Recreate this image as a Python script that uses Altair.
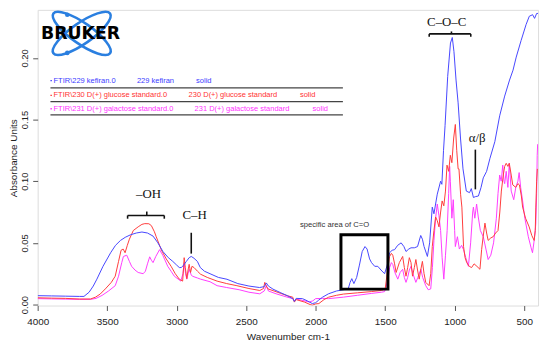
import altair as alt
import pandas as pd

# ---------------- spectra (wavenumber cm-1, absorbance) ----------------
kefiran_wn = [4000, 3900, 3800, 3700, 3667, 3630, 3600, 3574, 3530, 3475, 3440, 3404, 3370, 3333,
              3290, 3250, 3210, 3170, 3135, 3099, 3060, 3028, 3000, 2981, 2966, 2950, 2930, 2910,
              2895, 2875, 2851, 2830, 2800, 2760, 2700, 2638, 2560, 2480, 2404, 2370, 2355, 2340,
              2307, 2250, 2200, 2165, 2153, 2140, 2095, 2060, 2024, 2000, 1979, 1950, 1908, 1850,
              1800, 1766, 1752, 1740, 1725, 1705, 1685, 1665, 1645, 1630, 1612, 1598, 1575, 1553,
              1530, 1504, 1485, 1468, 1450, 1432, 1410, 1385, 1365, 1350, 1330, 1314, 1290, 1267,
              1244, 1232, 1220, 1196, 1180, 1161, 1149, 1125, 1101, 1092, 1080, 1069, 1050, 1030,
              1017, 1005, 990, 975, 958, 940, 916, 893, 880, 865, 850, 829, 810, 794, 770, 746,
              711, 676, 640, 605, 580, 557, 522, 486, 463, 439, 425, 410, 400]
kefiran_abs = [0.0072, 0.0070, 0.0068, 0.0066, 0.0066, 0.0100, 0.0150, 0.0206, 0.0310, 0.0420,
               0.0480, 0.0520, 0.0545, 0.0565, 0.0580, 0.0588, 0.0580, 0.0555, 0.0500, 0.0430,
               0.0380, 0.0350, 0.0320, 0.0300, 0.0300, 0.0320, 0.0350, 0.0380, 0.0390, 0.0375,
               0.0350, 0.0300, 0.0270, 0.0250, 0.0220, 0.0205, 0.0170, 0.0150, 0.0138, 0.0145,
               0.0175, 0.0150, 0.0125, 0.0095, 0.0070, 0.0048, 0.0025, 0.0050, 0.0048, 0.0030,
               0.0008, 0.0015, 0.0035, 0.0060, 0.0087, 0.0110, 0.0120, 0.0127, 0.0180, 0.0210,
               0.0170, 0.0220, 0.0320, 0.0430, 0.0470, 0.0450, 0.0370, 0.0340, 0.0310, 0.0310,
               0.0280, 0.0250, 0.0320, 0.0420, 0.0440, 0.0445, 0.0480, 0.0500, 0.0470, 0.0430,
               0.0450, 0.0460, 0.0460, 0.0470, 0.0560, 0.0530, 0.0470, 0.0390, 0.0500, 0.0790,
               0.0736, 0.0895, 0.1000, 0.0975, 0.1250, 0.1450, 0.1850, 0.2120, 0.2165, 0.2050,
               0.1820, 0.1635, 0.1350, 0.1100, 0.0920, 0.0907, 0.0940, 0.0868, 0.0875, 0.0880,
               0.0950, 0.1027, 0.1080, 0.1185, 0.1320, 0.1530, 0.1690, 0.1820, 0.1900, 0.2006,
               0.2140, 0.2270, 0.2337, 0.2350, 0.2320, 0.2360, 0.2360]

glucose_wn = [4000, 3900, 3800, 3700, 3620, 3584, 3550, 3513, 3470, 3442, 3418, 3400, 3385, 3371,
              3355, 3340, 3312, 3277, 3250, 3229, 3200, 3182, 3160, 3147, 3111, 3075, 3040, 3010,
              2981, 2957, 2950, 2946, 2938, 2927, 2918, 2910, 2900, 2890, 2875, 2850, 2828, 2780,
              2709, 2640, 2567, 2480, 2402, 2375, 2366, 2355, 2343, 2300, 2250, 2200, 2165, 2153,
              2140, 2080, 2040, 2024, 2000, 1977, 1940, 1906, 1850, 1800, 1700, 1600, 1527, 1500,
              1480, 1468, 1455, 1445, 1432, 1421, 1398, 1374, 1362, 1350, 1338, 1326, 1314, 1303,
              1290, 1279, 1267, 1255, 1244, 1232, 1220, 1208, 1184, 1172, 1161, 1149, 1137, 1125,
              1113, 1101, 1090, 1078, 1066, 1055, 1043, 1031, 1020, 1007, 995, 985, 975, 969, 957,
              948, 936, 925, 913, 895, 878, 860, 840, 818, 806, 795, 782, 770, 759, 740, 723, 705,
              688, 675, 664, 650, 640, 629, 617, 607, 593, 582, 560, 545, 534, 520, 511, 490, 464,
              445, 428, 420, 416, 410, 405]
glucose_abs = [0.0055, 0.0052, 0.0050, 0.0045, 0.0045, 0.0060, 0.0085, 0.0127, 0.0180, 0.0230,
               0.0350, 0.0440, 0.0450, 0.0420, 0.0480, 0.0530, 0.0600, 0.0630, 0.0650, 0.0656,
               0.0655, 0.0640, 0.0590, 0.0550, 0.0445, 0.0370, 0.0310, 0.0250, 0.0206, 0.0190,
               0.0300, 0.0380, 0.0300, 0.0210, 0.0280, 0.0326, 0.0260, 0.0310, 0.0300, 0.0270,
               0.0246, 0.0220, 0.0190, 0.0170, 0.0153, 0.0130, 0.0114, 0.0130, 0.0180, 0.0150,
               0.0127, 0.0110, 0.0090, 0.0070, 0.0060, 0.0020, 0.0040, 0.0020, 0.0000, -0.0005,
               0.0005, 0.0008, 0.0040, 0.0060, 0.0075, 0.0085, 0.0095, 0.0105, 0.0114, 0.0125,
               0.0300, 0.0390, 0.0415, 0.0400, 0.0330, 0.0260, 0.0340, 0.0390, 0.0300, 0.0230,
               0.0300, 0.0380, 0.0340, 0.0230, 0.0300, 0.0365, 0.0280, 0.0206, 0.0280, 0.0350,
               0.0250, 0.0180, 0.0153, 0.0250, 0.0470, 0.0600, 0.0710, 0.0680, 0.0630, 0.0750,
               0.0840, 0.0800, 0.0920, 0.1130, 0.1080, 0.1210, 0.1150, 0.1350, 0.1460, 0.1250,
               0.1100, 0.1100, 0.0890, 0.0790, 0.0470, 0.0380, 0.0340, 0.0310, 0.0300, 0.0330,
               0.0310, 0.0286, 0.0445, 0.0550, 0.0660, 0.0580, 0.0520, 0.0540, 0.0550, 0.0580,
               0.0600, 0.0750, 0.0920, 0.1050, 0.1120, 0.1145, 0.1120, 0.1145, 0.1050, 0.0970,
               0.0950, 0.0980, 0.0970, 0.0880, 0.0790, 0.0700, 0.0630, 0.0560, 0.0520, 0.0600,
               0.0790, 0.1000, 0.1100]

galactose_wn = [4000, 3900, 3800, 3700, 3620, 3580, 3537, 3490, 3442, 3418, 3395, 3383, 3359, 3340,
                3324, 3300, 3277, 3241, 3225, 3210, 3194, 3182, 3170, 3150, 3123, 3100, 3064, 3040,
                3017, 2970, 2955, 2946, 2936, 2927, 2918, 2910, 2895, 2887, 2850, 2828, 2760, 2709,
                2640, 2550, 2480, 2402, 2370, 2355, 2340, 2284, 2220, 2165, 2153, 2140, 2100, 2047,
                2020, 2000, 1950, 1906, 1800, 1700, 1600, 1527, 1504, 1480, 1468, 1455, 1445, 1430,
                1409, 1392, 1374, 1362, 1350, 1338, 1326, 1314, 1300, 1279, 1265, 1243, 1230, 1208,
                1190, 1172, 1160, 1149, 1137, 1125, 1113, 1101, 1090, 1078, 1066, 1054, 1043, 1036,
                1031, 1020, 1010, 1000, 995, 980, 966, 950, 936, 920, 901, 885, 870, 865, 855, 842,
                830, 815, 794, 775, 759, 740, 720, 700, 688, 676, 665, 654, 645, 640, 629, 617, 607,
                593, 575, 560, 545, 536, 525, 511, 495, 470, 450, 440, 430, 420, 416, 410, 406, 403]
galactose_abs = [0.0048, 0.0046, 0.0044, 0.0042, 0.0042, 0.0050, 0.0074, 0.0110, 0.0153, 0.0230,
                 0.0340, 0.0390, 0.0400, 0.0350, 0.0310, 0.0280, 0.0260, 0.0250, 0.0270, 0.0330,
                 0.0387, 0.0360, 0.0340, 0.0390, 0.0445, 0.0400, 0.0310, 0.0270, 0.0230, 0.0190,
                 0.0250, 0.0340, 0.0250, 0.0206, 0.0250, 0.0286, 0.0240, 0.0230, 0.0215, 0.0206,
                 0.0185, 0.0153, 0.0138, 0.0120, 0.0100, 0.0087, 0.0110, 0.0153, 0.0110, 0.0087,
                 0.0065, 0.0048, 0.0030, 0.0045, 0.0035, 0.0021, 0.0030, 0.0048, 0.0050, 0.0048,
                 0.0060, 0.0075, 0.0090, 0.0100, 0.0105, 0.0200, 0.0300, 0.0340, 0.0325, 0.0260,
                 0.0206, 0.0260, 0.0286, 0.0220, 0.0180, 0.0220, 0.0280, 0.0310, 0.0250, 0.0180,
                 0.0220, 0.0286, 0.0220, 0.0153, 0.0120, 0.0127, 0.0300, 0.0520, 0.0700, 0.0815,
                 0.0720, 0.0600, 0.0380, 0.0206, 0.0400, 0.0600, 0.0900, 0.1120, 0.1000, 0.0700,
                 0.0850, 0.0600, 0.0470, 0.0550, 0.0450, 0.0480, 0.0445, 0.0380, 0.0310, 0.0500,
                 0.0750, 0.0790, 0.0700, 0.0815, 0.0710, 0.0600, 0.0550, 0.0450, 0.0365, 0.0400,
                 0.0500, 0.0700, 0.0900, 0.1050, 0.1000, 0.1130, 0.1000, 0.0980, 0.1080, 0.0950,
                 0.1145, 0.0920, 0.0850, 0.0950, 0.1000, 0.1070, 0.0950, 0.0840, 0.0700, 0.0550,
                 0.0460, 0.0420, 0.0500, 0.0600, 0.0660, 0.0900, 0.1210, 0.1300]

series_names = ["kefiran", "glucose", "galactose"]
series_colors = ["#4646FF", "#FF3C3C", "#FF3CFF"]

# ---------------- legend block (top-left) ----------------
legend_col1 = ["FTIR\\229 kefiran.0", "FTIR\\230 D(+) glucose standard.0",
               "FTIR\\231 D(+) galactose standard.0"]
legend_col2 = ["229 kefiran", "230 D(+) glucose standard", "231 D(+) galactose standard"]
legend_col3 = ["solid", "solid", "solid"]
legend_row_abs = [0.1815, 0.1696, 0.1587]
legend_col1_wn = [3886, 3886, 3886]
legend_col2_wn = [3286, 2914, 2871]
legend_col3_wn = [2860, 2113, 2022]
legend_text_colors = ["#3C3CFF", "#FF3333", "#FF33FF"]
legend_sep_abs = [0.1756, 0.1645, 0.1537]
legend_sep_wn = [3908, 1804]
legend_dot_wn = 3903

# ---------------- annotations ----------------
ann_text = ["–OH", "C–H", "C–O–C", "α/β"]
ann_wn = [3203, 2871, 1057, 838]
ann_abs = [0.0897, 0.0728, 0.2294, 0.1350]

seg_wn1 = [3353, 3353, 3089, 3215, 2895, 1183, 1183, 884, 1023, 851]
seg_wn2 = [3089, 3353, 3089, 3215, 2895, 884, 1183, 884, 1023, 851]
seg_abs1 = [0.0722, 0.0722, 0.0722, 0.0722, 0.0582, 0.2194, 0.2194, 0.2194, 0.2194, 0.1256]
seg_abs2 = [0.0722, 0.0696, 0.0696, 0.0754, 0.0413, 0.2194, 0.2171, 0.2171, 0.2214, 0.0934]

box_wn = [1818, 1480]
box_abs = [0.0566, 0.0125]
box_label = "specific area of C=O"
box_label_wn = 1864
box_label_abs = 0.0648

# ---------------- logo ----------------
logo_text = "BRUKER"
logo_text_wn = 3691
logo_text_abs = 0.2194
logo_orbit_wn = 3683
logo_orbit_abs = 0.2198
logo_orbit_angles = [35, 145]
logo_dot_wn = [3787, 3787]
logo_dot_abs = [0.2349, 0.2040]

# ---------------- build ----------------
x_ticks = [4000, 3500, 3000, 2500, 2000, 1500, 1000, 500]
y_ticks = [0.0, 0.05, 0.10, 0.15, 0.20]

x_scale = alt.Scale(domain=[400, 4000], reverse=True, nice=False, zero=False)
y_scale = alt.Scale(domain=[-0.0008, 0.2389], nice=False, zero=False)

x_axis = alt.Axis(values=x_ticks, format="d", domain=False, grid=False, tickSize=5,
                  tickColor="#555555", labelFont="Liberation Sans", labelFontSize=10,
                  labelColor="#222222", labelPadding=6, labelFlush=False,
                  titleFont="Liberation Sans", titleFontSize=10, titleFontWeight="normal",
                  titleColor="#222222", titlePadding=5)
y_axis = alt.Axis(values=y_ticks, format=".2f", domain=False, grid=False, tickSize=5,
                  tickColor="#555555", labelFont="Liberation Sans", labelFontSize=9.5,
                  labelColor="#222222", labelAngle=270, labelAlign="center",
                  labelBaseline="bottom", labelPadding=3, labelFlush=False,
                  titleFont="Liberation Sans", titleFontSize=10, titleFontWeight="normal",
                  titleColor="#222222", titlePadding=1)

X = lambda f="wn": alt.X(f"{f}:Q", scale=x_scale, axis=x_axis, title="Wavenumber cm-1")
Y = lambda f="abs": alt.Y(f"{f}:Q", scale=y_scale, axis=y_axis, title="Absorbance Units")

spectra = {
    "kefiran": (kefiran_wn, kefiran_abs),
    "glucose": (glucose_wn, glucose_abs),
    "galactose": (galactose_wn, galactose_abs),
}

layers = []
# draw magenta, red, then blue on top
for name in ["galactose", "glucose", "kefiran"]:
    wn, ab = spectra[name]
    color = series_colors[series_names.index(name)]
    df = pd.DataFrame({"wn": wn, "abs": ab})
    layers.append(alt.Chart(df).mark_line(color=color, strokeWidth=1, clip=True)
                  .encode(x=X(), y=Y()))

# legend text rows
rows = []
for i in range(3):
    for wn, txt in [(legend_col1_wn[i], legend_col1[i]), (legend_col2_wn[i], legend_col2[i]),
                    (legend_col3_wn[i], legend_col3[i])]:
        rows.append({"wn": wn, "abs": legend_row_abs[i], "text": txt, "color": legend_text_colors[i]})
leg_df = pd.DataFrame(rows)
layers.append(alt.Chart(leg_df).mark_text(align="left", baseline="middle", font="Liberation Sans",
                                          fontSize=7.6)
              .encode(x=X(), y=Y(), text="text:N", color=alt.Color("color:N", scale=None)))

dot_df = pd.DataFrame({"wn": [legend_dot_wn] * 3, "abs": legend_row_abs, "color": legend_text_colors})
layers.append(alt.Chart(dot_df).mark_point(shape="square", filled=True, size=2, opacity=1)
              .encode(x=X(), y=Y(), color=alt.Color("color:N", scale=None)))

sep_df = pd.DataFrame({"wn": [legend_sep_wn[0]] * 3, "wn2": [legend_sep_wn[1]] * 3,
                       "abs": legend_sep_abs})
layers.append(alt.Chart(sep_df).mark_rule(color="#444444", strokeWidth=1.2)
              .encode(x=X(), x2="wn2:Q", y=Y()))

# annotations
ann_df = pd.DataFrame({"wn": ann_wn, "abs": ann_abs, "text": ann_text})
layers.append(alt.Chart(ann_df).mark_text(font="Liberation Serif", fontSize=13, color="#111111",
                                          baseline="middle", align="center")
              .encode(x=X(), y=Y(), text="text:N"))

seg_df = pd.DataFrame({"wn": seg_wn1, "wn2": seg_wn2, "abs": seg_abs1, "abs2": seg_abs2})
layers.append(alt.Chart(seg_df).mark_rule(color="#111111", strokeWidth=1.6)
              .encode(x=X(), x2="wn2:Q", y=Y(), y2="abs2:Q"))

box_df = pd.DataFrame({"wn": [box_wn[0]], "wn2": [box_wn[1]], "abs": [box_abs[0]], "abs2": [box_abs[1]]})
layers.append(alt.Chart(box_df).mark_rect(fillOpacity=0, stroke="#000000", strokeWidth=3)
              .encode(x=X(), x2="wn2:Q", y=Y(), y2="abs2:Q"))

boxlab_df = pd.DataFrame({"wn": [box_label_wn], "abs": [box_label_abs], "text": [box_label]})
layers.append(alt.Chart(boxlab_df).mark_text(font="Liberation Sans", fontSize=7.7, color="#333333",
                                             baseline="middle", align="center")
              .encode(x=X(), y=Y(), text="text:N"))

# logo
ellipse = "M-1,0A1,0.3,0,1,0,1,0A1,0.3,0,1,0,-1,0Z"
for ang in logo_orbit_angles:
    orb_df = pd.DataFrame({"wn": [logo_orbit_wn], "abs": [logo_orbit_abs]})
    layers.append(alt.Chart(orb_df).mark_point(shape=ellipse, size=4900, angle=ang, filled=False,
                                               stroke="#2A7FE0", strokeWidth=2.6, opacity=1)
                  .encode(x=X(), y=Y()))
ldot_df = pd.DataFrame({"wn": logo_dot_wn, "abs": logo_dot_abs})
layers.append(alt.Chart(ldot_df).mark_point(shape="circle", filled=True, size=22, color="#2A7FE0",
                                            opacity=1)
              .encode(x=X(), y=Y()))
ltext_df = pd.DataFrame({"wn": [logo_text_wn], "abs": [logo_text_abs], "text": [logo_text]})
layers.append(alt.Chart(ltext_df).mark_text(font="DejaVu Sans", fontWeight="bold", fontSize=17.5,
                                            color="#000000", baseline="middle", align="center")
              .encode(x=X(), y=Y(), text="text:N"))

chart = alt.layer(*layers).properties(
    width=506, height=299,
    autosize=alt.AutoSizeParams(type="none"),
    padding={"left": 30, "top": 0, "right": 4, "bottom": 36},
).configure_view(stroke="#666666", strokeWidth=1).configure(background="white")

chart.save("out.html", embed_options={"renderer": "svg", "actions": False})
